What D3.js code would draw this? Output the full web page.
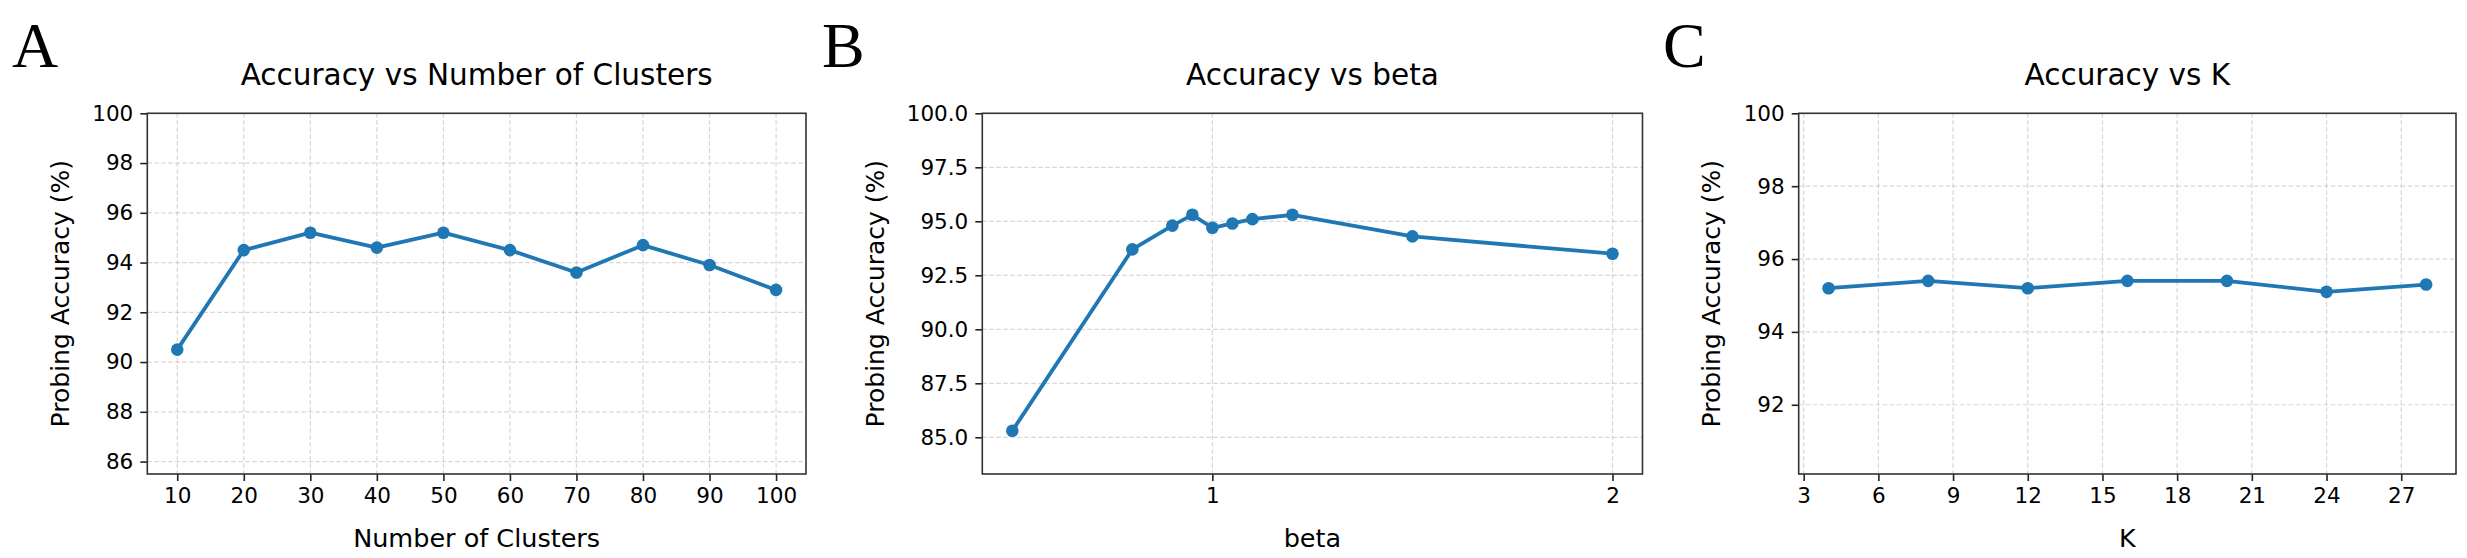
<!DOCTYPE html>
<html>
<head>
<meta charset="utf-8">
<script src="https://cdn.jsdelivr.net/npm/d3@7"></script>
<style>
  html, body { margin: 0; padding: 0; background: #fff; }
  svg { display: block; }
  text { font-family: "DejaVu Sans", sans-serif; fill: #000; }
</style>
</head>
<body>
<svg id="chart" width="2467" height="558"></svg>
<script>
// ---- data ----
const clusterX = [10, 20, 30, 40, 50, 60, 70, 80, 90, 100];
const clusterAcc = [90.5, 94.5, 95.2, 94.6, 95.2, 94.5, 93.6, 94.7, 93.9, 92.9];
const clusterXTicks = [10, 20, 30, 40, 50, 60, 70, 80, 90, 100];
const clusterYTicks = [86, 88, 90, 92, 94, 96, 98, 100];

const betaX = [0.5, 0.8, 0.9, 0.95, 1.0, 1.05, 1.1, 1.2, 1.5, 2.0];
const betaAcc = [85.3, 93.7, 94.8, 95.3, 94.7, 94.9, 95.1, 95.3, 94.3, 93.5];
const betaXTicks = [1, 2];
const betaYTicks = [85.0, 87.5, 90.0, 92.5, 95.0, 97.5, 100.0];

const kX = [4, 8, 12, 16, 20, 24, 28];
const kAcc = [95.2, 95.4, 95.2, 95.4, 95.4, 95.1, 95.3];
const kXTicks = [3, 6, 9, 12, 15, 18, 21, 24, 27];
const kYTicks = [92, 94, 96, 98, 100];

const panelLetters = ["A", "B", "C"];
const titles = ["Accuracy vs Number of Clusters", "Accuracy vs beta", "Accuracy vs K"];
const xLabels = ["Number of Clusters", "beta", "K"];
const yLabel = "Probing Accuracy (%)";

// ---- layout ----
const svg = d3.select("#chart");
const color = "#1f77b4";
const plotTop = 113.3, plotBottom = 474;

const panels = [
  { x: clusterX, y: clusterAcc, xt: clusterXTicks, yt: clusterYTicks, yfmt: d3.format("d"), ymin: d3.min(clusterAcc) - 5,
    left: 147.3, right: 806, letterX: 12, ylabX: 60 },
  { x: betaX, y: betaAcc, xt: betaXTicks, yt: betaYTicks, yfmt: d3.format(".1f"), ymin: d3.min(betaAcc) - 2,
    left: 982.3, right: 1642.5, letterX: 822, ylabX: 875 },
  { x: kX, y: kAcc, xt: kXTicks, yt: kYTicks, yfmt: d3.format("d"), ymin: d3.min(kAcc) - 5,
    left: 1798.7, right: 2456, letterX: 1663, ylabX: 1711 }
];

panels.forEach((p, i) => {
  const xmin = d3.min(p.x), xmax = d3.max(p.x), pad = (xmax - xmin) * 0.05;
  const xs = d3.scaleLinear().domain([xmin - pad, xmax + pad]).range([p.left, p.right]);
  const ys = d3.scaleLinear().domain([p.ymin, 100]).range([plotBottom, plotTop]);
  const g = svg.append("g");

  // grid
  g.append("g").selectAll("line").data(p.xt).join("line")
    .attr("x1", d => xs(d)).attr("x2", d => xs(d)).attr("y1", plotTop).attr("y2", plotBottom)
    .attr("stroke", "#b0b0b0").attr("stroke-opacity", 0.5).attr("stroke-width", 1.2).attr("stroke-dasharray", "4.5,2.5");
  g.append("g").selectAll("line").data(p.yt).join("line")
    .attr("x1", p.left).attr("x2", p.right).attr("y1", d => ys(d)).attr("y2", d => ys(d))
    .attr("stroke", "#b0b0b0").attr("stroke-opacity", 0.5).attr("stroke-width", 1.2).attr("stroke-dasharray", "4.5,2.5");

  // line + markers
  const pts = p.x.map((d, j) => [d, p.y[j]]);
  g.append("path").datum(pts)
    .attr("d", d3.line().x(d => xs(d[0])).y(d => ys(d[1])))
    .attr("fill", "none").attr("stroke", color).attr("stroke-width", 3.8).attr("stroke-linejoin", "round");
  g.append("g").selectAll("circle").data(pts).join("circle")
    .attr("cx", d => xs(d[0])).attr("cy", d => ys(d[1])).attr("r", 6.3).attr("fill", color);

  // axes
  const xAxis = d3.axisBottom(xs).tickValues(p.xt).tickSize(7).tickPadding(7).tickFormat(d3.format("d"));
  const yAxis = d3.axisLeft(ys).tickValues(p.yt).tickSize(7).tickPadding(7).tickFormat(p.yfmt);
  const gx = g.append("g").attr("transform", `translate(0,${plotBottom})`).call(xAxis);
  const gy = g.append("g").attr("transform", `translate(${p.left},0)`).call(yAxis);
  [gx, gy].forEach(a => {
    a.select(".domain").remove();
    a.selectAll(".tick line").attr("stroke", "#222").attr("stroke-width", 1.6);
    a.selectAll(".tick text").attr("font-family", "DejaVu Sans").attr("font-size", 21.5).attr("fill", "#000");
  });

  // frame
  g.append("rect").attr("x", p.left).attr("y", plotTop).attr("width", p.right - p.left).attr("height", plotBottom - plotTop)
    .attr("fill", "none").attr("stroke", "#333").attr("stroke-width", 1.6);

  // labels
  const cx = (p.left + p.right) / 2;
  g.append("text").attr("x", cx).attr("y", 85).attr("text-anchor", "middle").attr("font-size", 29.5).text(titles[i]);
  g.append("text").attr("x", cx).attr("y", 547).attr("text-anchor", "middle").attr("font-size", 25.5).text(xLabels[i]);
  g.append("text").attr("transform", `translate(${p.ylabX + 9},${(plotTop + plotBottom) / 2}) rotate(-90)`)
    .attr("text-anchor", "middle").attr("font-size", 25).text(yLabel);
  g.append("text").attr("x", p.letterX).attr("y", 67)
    .style("font-family", "'Liberation Serif', serif").attr("font-size", 64).text(panelLetters[i]);
});
</script>
</body>
</html>
